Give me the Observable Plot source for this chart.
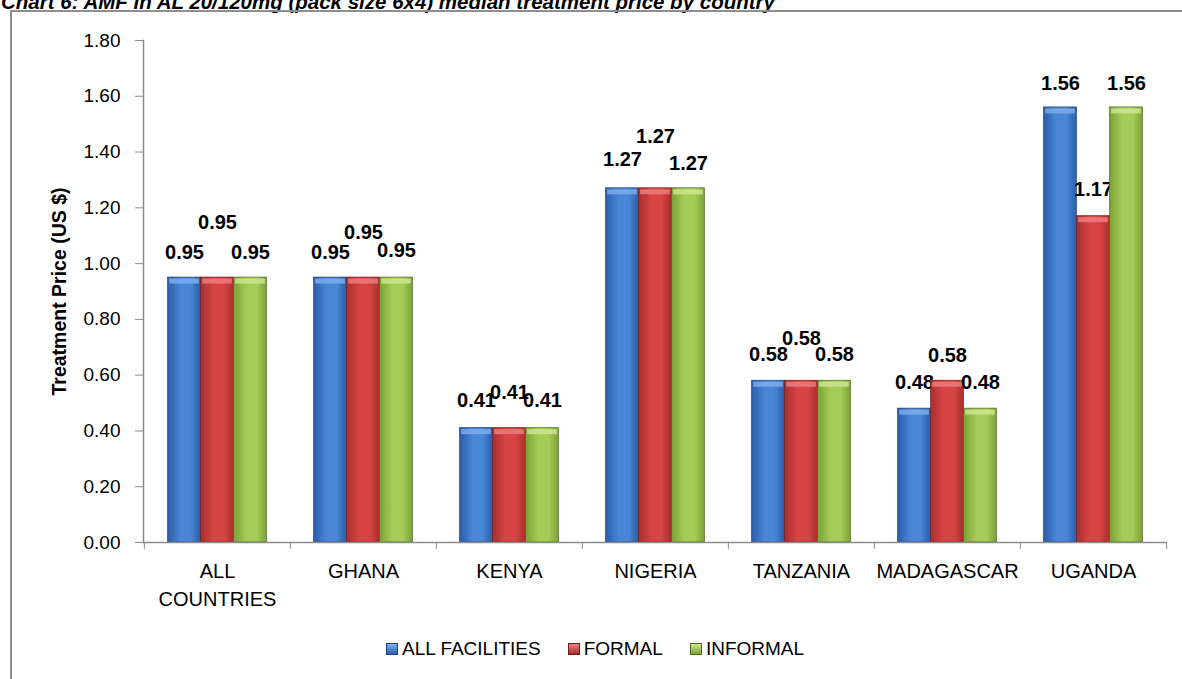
<!DOCTYPE html>
<html>
<head>
<meta charset="utf-8">
<script src="https://cdn.jsdelivr.net/npm/d3@7"></script>
<script src="https://cdn.jsdelivr.net/npm/@observablehq/plot@0.6"></script>
<style>
  html, body { margin: 0; padding: 0; background: #fff; overflow: hidden; }
  body { font-family: "Liberation Sans", Arial, sans-serif; }
  #wrap { position: relative; width: 1182px; height: 679px; overflow: hidden; }
  #title { position: absolute; left: 1px; top: -8px; font-size: 20.5px; font-weight: bold; font-style: italic; line-height: 20px; white-space: nowrap; color: #000; }
  #frame { position: absolute; left: 10px; top: 10px; width: 1200px; height: 700px; border-left: 2px solid #8e8e8e; border-top: 2px solid #8e8e8e; }
  #chart { position: absolute; left: 0; top: 0; }
  #legend { position: absolute; left: 386px; top: 638px; display: flex; align-items: center; font-size: 19px; color: #000; }
  .item { display: flex; align-items: center; margin-right: 27px; }
  .sw { width: 12px; height: 12px; margin-right: 4px; box-sizing: border-box; }
</style>
</head>
<body>
<div id="wrap">
  <div id="title">Chart 6: AMF in AL 20/120mg (pack size 6x4) median treatment price by country</div>
  <div id="frame"></div>
  <div id="chart"></div>
  <div id="legend"></div>
</div>
<script>
// ---- data ----
const categories = ["ALL COUNTRIES", "GHANA", "KENYA", "NIGERIA", "TANZANIA", "MADAGASCAR", "UGANDA"];
const categoryLabels = ["ALL\nCOUNTRIES", "GHANA", "KENYA", "NIGERIA", "TANZANIA", "MADAGASCAR", "UGANDA"];
const seriesNames = ["ALL FACILITIES", "FORMAL", "INFORMAL"];
const allFacilities = [0.95, 0.95, 0.41, 1.27, 0.58, 0.48, 1.56];
const formal = [0.95, 0.95, 0.41, 1.27, 0.58, 0.58, 1.17];
const informal = [0.95, 0.95, 0.41, 1.27, 0.58, 0.48, 1.56];
const yTicks = [0, 0.2, 0.4, 0.6, 0.8, 1.0, 1.2, 1.4, 1.6, 1.8];

// ---- layout / style ----
const seriesValues = [allFacilities, formal, informal];
const seriesColors = [
  {id: "gBlue", edge: "#2a5ea8", mid: "#4a86d6", light: "#7fb0ee", line: "#1f3f73"},
  {id: "gRed", edge: "#a82e2e", mid: "#d84444", light: "#f07f7f", line: "#6e1b1b"},
  {id: "gGreen", edge: "#7aa236", mid: "#a6cc58", light: "#cfe894", line: "#4f6a20"}
];
// label lift above bar top (px), per series per category (Excel's manual label placement)
const labelLift = [
  [25, 25, 28, 29, 26, 26, 24],
  [55, 45, 36, 52, 42, 25, 27],
  [25, 27, 28, 25, 26, 26, 24]
];

const W = 1182, H = 600;
const mL = 143, mR = 15, mT = 40, mB = 58;
const bandW = (W - mL - mR) / categories.length;
const barW = 33;
const inset = (bandW - barW) / 2;
const axisColor = "#8c8c8c";

const marks = [];
seriesValues.forEach((vals, k) => {
  const rows = categories.map((c, i) => ({c, v: vals[i]}));
  marks.push(Plot.barY(rows, {
    x: "c", y: "v", dx: (k - 1) * barW,
    insetLeft: inset, insetRight: inset,
    fill: `url(#${seriesColors[k].id})`,
    stroke: seriesColors[k].line, strokeWidth: 0.7
  }));
  marks.push(Plot.tickY(rows, {
    x: "c", y: "v", dx: (k - 1) * barW, dy: 3.5,
    insetLeft: inset + 1.5, insetRight: inset + 1.5,
    stroke: seriesColors[k].light, strokeWidth: 5, strokeOpacity: 0.8
  }));
  categories.forEach((c, i) => {
    marks.push(Plot.text([{c, v: vals[i]}], {
      x: "c", y: "v", text: d => d.v.toFixed(2),
      dx: (k - 1) * barW, dy: -labelLift[k][i],
      fontSize: 20, fontWeight: "bold", fill: "#000"
    }));
  });
});

const plot = Plot.plot({
  width: W, height: H,
  marginLeft: mL, marginRight: mR, marginTop: mT, marginBottom: mB,
  style: {fontFamily: "'Liberation Sans', Arial, sans-serif", background: "transparent", overflow: "visible"},
  x: {domain: categories, padding: 0, axis: null},
  y: {domain: [0, 1.8], axis: null},
  marks: [
    Plot.axisY({ticks: yTicks, tickFormat: d => d.toFixed(2), tickSize: 8, tickPadding: 15, fontSize: 19, stroke: axisColor, fill: "#000", label: null}),
    Plot.axisX({tickSize: 0, tickPadding: 16, fontSize: 20, fill: "#000", label: null, lineHeight: 1.4,
      tickFormat: d => categoryLabels[categories.indexOf(d)]}),
    Plot.axisX({tickSize: 7, tickFormat: () => "", dx: -bandW / 2, stroke: axisColor, label: null}),
    Plot.axisX({ticks: [categories[categories.length - 1]], tickSize: 7, tickFormat: () => "", dx: bandW / 2, stroke: axisColor, label: null}),
    ...marks,
    Plot.frame({anchor: "left", stroke: axisColor, strokeWidth: 1.5}),
    Plot.ruleY([0], {stroke: axisColor, strokeWidth: 1.5}),
    Plot.text(["Treatment Price (US $)"], {frameAnchor: "left", textAnchor: "middle", dx: -84, rotate: -90, fontSize: 19.5, fontWeight: "bold", fill: "#000"})
  ]
});

// gradients
const svg = d3.select(plot);
const defs = svg.insert("defs", ":first-child");
seriesColors.forEach(s => {
  const g = defs.append("linearGradient").attr("id", s.id).attr("x1", "0").attr("x2", "1").attr("y1", "0").attr("y2", "0");
  g.append("stop").attr("offset", "0%").attr("stop-color", s.edge);
  g.append("stop").attr("offset", "40%").attr("stop-color", s.mid);
  g.append("stop").attr("offset", "70%").attr("stop-color", s.mid);
  g.append("stop").attr("offset", "100%").attr("stop-color", s.edge);
});
document.getElementById("chart").appendChild(plot);

// legend
const legend = d3.select("#legend");
seriesNames.forEach((name, k) => {
  const it = legend.append("div").attr("class", "item");
  it.append("div").attr("class", "sw")
    .style("background", `linear-gradient(to bottom, ${seriesColors[k].light}, ${seriesColors[k].edge})`)
    .style("border", `1px solid ${seriesColors[k].line}`);
  it.append("span").text(name);
});
</script>
</body>
</html>
